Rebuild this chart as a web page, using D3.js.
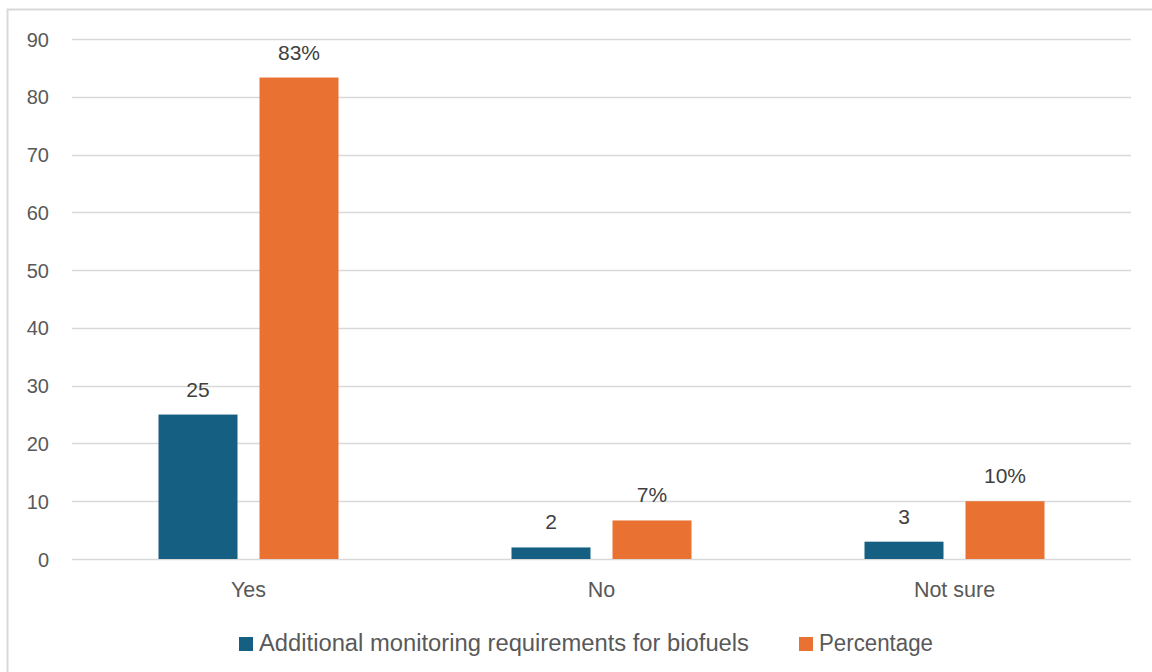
<!DOCTYPE html>
<html>
<head>
<meta charset="utf-8">
<script src="https://cdn.jsdelivr.net/npm/d3@7"></script>
<style>
  html, body { margin: 0; padding: 0; background: #fff; }
  svg { display: block; font-family: "Liberation Sans", Arial, sans-serif; }
</style>
</head>
<body>
<svg id="chart" width="1152" height="672"></svg>
<script>
// Survey responses: count of respondents and share of total
const categories = ["Yes", "No", "Not sure"];
const counts = [25, 2, 3];
const percentages = [83.33, 6.67, 10];
const percentLabels = ["83%", "7%", "10%"];
const seriesNames = ["Additional monitoring requirements for biofuels", "Percentage"];
const yTicks = [0, 10, 20, 30, 40, 50, 60, 70, 80, 90];

const colors = ["#156082", "#E97132"];
const textColor = "#595959";

const svg = d3.select("#chart");

// outer chart frame
svg.append("rect")
  .attr("x", 7.5).attr("y", 9.5)
  .attr("width", 1160).attr("height", 680)
  .attr("fill", "#fff")
  .attr("stroke", "#d9d9d9").attr("stroke-width", 2);

const plot = { left: 72, right: 1131, top: 39, bottom: 559 };

const x = d3.scaleBand()
  .domain(categories)
  .range([plot.left, plot.right])
  .paddingInner(0).paddingOuter(0);

const y = d3.scaleLinear()
  .domain([0, 90])
  .range([plot.bottom, plot.top]);

// gridlines
svg.append("g")
  .selectAll("line")
  .data(yTicks)
  .join("line")
  .attr("x1", plot.left).attr("x2", plot.right)
  .attr("y1", d => Math.round(y(d)) + 0.5).attr("y2", d => Math.round(y(d)) + 0.5)
  .attr("stroke", "#d9d9d9").attr("stroke-width", 1.5);

// y axis labels
const yAxis = d3.axisLeft(y).tickValues(yTicks).tickSize(0).tickPadding(0);
const yg = svg.append("g")
  .attr("transform", `translate(49,0)`)
  .call(yAxis);
yg.select(".domain").remove();
yg.selectAll("text")
  .attr("fill", textColor)
  .style("font-size", "20px")
  .attr("dy", "0.35em");

// x axis labels
const xAxis = d3.axisBottom(x).tickSize(0).tickPadding(0);
const xg = svg.append("g")
  .attr("transform", `translate(0,${plot.bottom})`)
  .call(xAxis);
xg.select(".domain").remove();
xg.selectAll("text")
  .attr("fill", textColor)
  .style("font-size", "21.5px")
  .attr("dy", null)
  .attr("y", 38);

// grouped bars
const barW = 79, gap = 22;
const offsets = [-(gap / 2 + barW), gap / 2];
const series = [counts, percentages];
const labelSets = [counts.map(String), percentLabels];

series.forEach((vals, si) => {
  const g = svg.append("g");
  g.selectAll("rect")
    .data(vals)
    .join("rect")
    .attr("x", (d, i) => x(categories[i]) + x.bandwidth() / 2 + offsets[si])
    .attr("y", d => y(d))
    .attr("width", barW)
    .attr("height", d => y(0) - y(d))
    .attr("fill", colors[si]);
  g.selectAll("text")
    .data(vals)
    .join("text")
    .attr("x", (d, i) => x(categories[i]) + x.bandwidth() / 2 + offsets[si] + barW / 2)
    .attr("y", d => y(d) - 18)
    .attr("text-anchor", "middle")
    .attr("fill", "#404040")
    .style("font-size", "21px")
    .text((d, i) => labelSets[si][i]);
});

// legend
const legendItems = [
  { name: seriesNames[0], color: colors[0], x: 239, len: 490 },
  { name: seriesNames[1], color: colors[1], x: 799, len: 114 }
];
const lg = svg.append("g");
legendItems.forEach(item => {
  lg.append("rect")
    .attr("x", item.x).attr("y", 637)
    .attr("width", 14).attr("height", 14)
    .attr("fill", item.color);
  lg.append("text")
    .attr("x", item.x + 20).attr("y", 651)
    .attr("fill", textColor)
    .attr("textLength", item.len)
    .attr("lengthAdjust", "spacingAndGlyphs")
    .style("font-size", "23px")
    .text(item.name);
});
</script>
</body>
</html>
